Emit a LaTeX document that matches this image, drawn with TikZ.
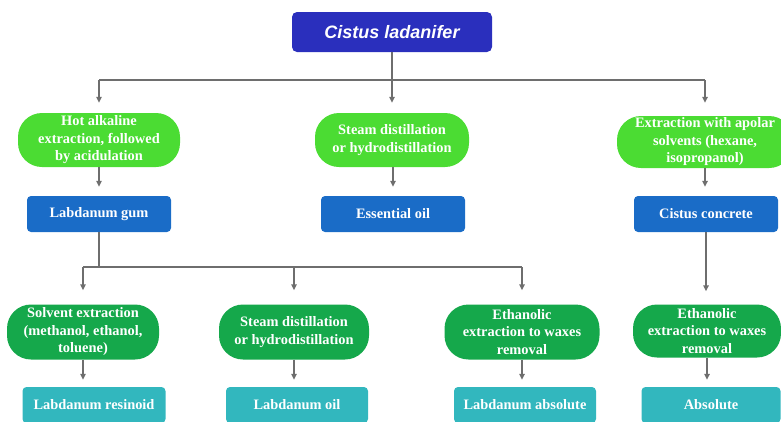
\documentclass[tikz,border=0pt]{standalone}
\usepackage{fontspec}
\setmainfont{Liberation Serif}
\newfontfamily\headfont{Liberation Sans}
\usetikzlibrary{arrows.meta}
\definecolor{topblue}{HTML}{2A2FBD}
\definecolor{lgreen}{HTML}{4BDC33}
\definecolor{mblue}{HTML}{1A6CC7}
\definecolor{dgreen}{HTML}{15A84B}
\definecolor{teal2}{HTML}{32B7BE}
\definecolor{arrgray}{HTML}{6E6E6E}
\tikzset{
  base/.style={text=white, inner sep=0pt, align=center, font=\bfseries\fontsize{14.4}{17.5}\selectfont},
  topbox/.style={fill=topblue, rounded corners=5pt, minimum width=200pt, minimum height=40pt, inner sep=0pt, text=white, font=\headfont\bfseries\itshape\fontsize{18}{20}\selectfont},
  pillL/.style={base, fill=lgreen, rounded corners=24pt},
  pillD/.style={base, fill=dgreen, rounded corners=24pt},
  bluebox/.style={base, fill=mblue, rounded corners=4pt, minimum width=144pt, minimum height=36pt},
  tealbox/.style={base, fill=teal2, rounded corners=4pt, minimum height=36pt},
  link/.style={draw=arrgray, line width=1.4pt},
  arr/.style={link, -{Triangle[width=5.5pt,length=6pt]}},
}
\begin{document}
\begin{tikzpicture}[x=1pt,y=-1pt]
\useasboundingbox (0,0) rectangle (781,421);
\clip (0,0) rectangle (781,421);
% nodes
\node[topbox] (top) at (392,32) {Cistus ladanifer};
\node[pillL, minimum width=162pt, minimum height=54pt] (g1) at (99,140) {Hot alkaline\\extraction, followed\\by acidulation};
\node[pillL, minimum width=154pt, minimum height=54pt] (g2) at (392,140) {Steam distillation\\or hydrodistillation};
\node[pillL, minimum width=176pt, minimum height=52pt] (g3) at (705,142) {Extraction with apolar\\solvents (hexane,\\isopropanol)};
\node[bluebox] (b1) at (99,214) {Labdanum gum};
\node[bluebox] (b2) at (393,214) {Essential oil};
\node[bluebox] (b3) at (706,214) {Cistus concrete};
\node[pillD, minimum width=152pt, minimum height=55pt] (d1) at (83,332) {Solvent extraction\\(methanol, ethanol,\\toluene)};
\node[pillD, minimum width=150pt, minimum height=55pt] (d2) at (294,332) {Steam distillation\\or hydrodistillation};
\node[pillD, minimum width=155pt, minimum height=55pt] (d3) at (522,332) {Ethanolic\\extraction to waxes\\removal};
\node[pillD, minimum width=148pt, minimum height=53pt] (d4) at (707,331) {Ethanolic\\extraction to waxes\\removal};
\node[tealbox, minimum width=143pt] (t1) at (94,405) {Labdanum resinoid};
\node[tealbox, minimum width=142pt] (t2) at (297,405) {Labdanum oil};
\node[tealbox, minimum width=142pt] (t3) at (525,405) {Labdanum absolute};
\node[tealbox, minimum width=139pt] (t4) at (711,405) {Absolute};
% bus coordinates
\coordinate (bus1) at (0,80);
\coordinate (bus2) at (0,267);
% level 1 connectors
\draw[link] (top.south) -- (top.south |- bus1);
\draw[link] (g1.north |- bus1) -- (g3.north |- bus1);
\draw[arr, shorten >=10pt] (g1.north |- bus1) -- (g1.north);
\draw[arr, shorten >=10pt] (top.south |- bus1) -- (top.south |- g2.north);
\draw[arr, shorten >=10pt] (g3.north |- bus1) -- (g3.north |- g2.north);
% green to blue
\draw[arr, shorten >=9pt] (g1.south) -- (b1.north);
\draw[arr, shorten >=9pt] (g2.south -| b2.north) -- (b2.north);
\draw[arr, shorten >=9pt] (g3.south) -- (g3.south |- b3.north);
% level 2 bus
\draw[link] (b1.south) -- (b1.south |- bus2);
\draw[link] (d1.north |- bus2) -- (d3.north |- bus2);
\draw[arr, shorten >=14pt] (d1.north |- bus2) -- (d1.north);
\draw[arr, shorten >=14pt] (d2.north |- bus2) -- (d2.north);
\draw[arr, shorten >=14pt] (d3.north |- bus2) -- (d3.north);
\draw[arr, shorten >=13pt] (b3.south) -- (b3.south |- d4.north);
% dark green to teal
\draw[arr, shorten >=7pt] (d1.south) -- (d1.south |- t1.north);
\draw[arr, shorten >=7pt] (d2.south) -- (d2.south |- t2.north);
\draw[arr, shorten >=7pt] (d3.south) -- (d3.south |- t3.north);
\draw[arr, shorten >=7pt] (d4.south) -- (d4.south |- t4.north);
\end{tikzpicture}
\end{document}
